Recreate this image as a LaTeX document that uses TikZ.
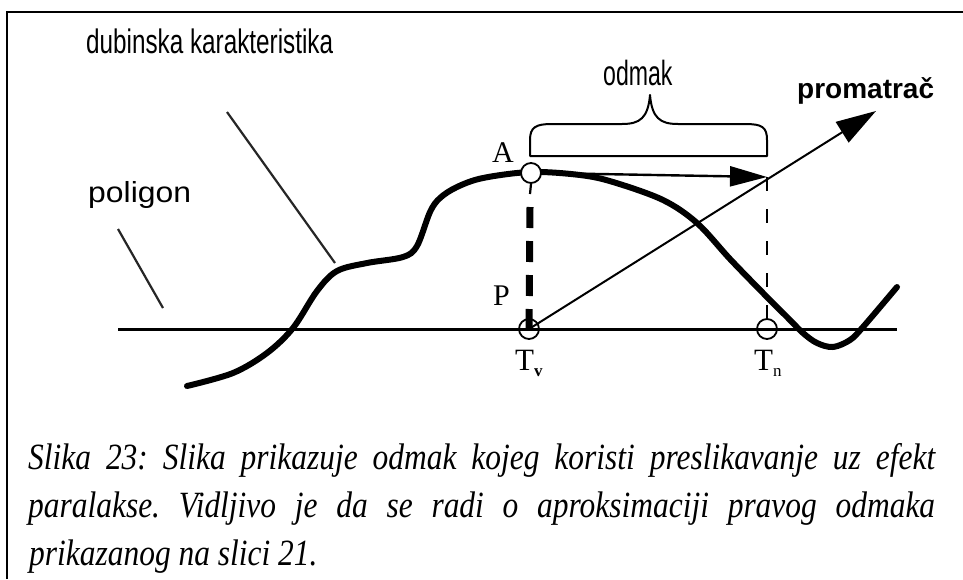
\documentclass[tikz,border=0pt]{standalone}
\usepackage{fontspec}
\usepackage{graphicx}
\setmainfont{Liberation Serif}
\newfontfamily\arialf{Liberation Sans}
\usetikzlibrary{arrows.meta}
\frenchspacing
\tikzset{
  lbl/.style={inner sep=0pt, anchor=base west},
  ptr/.style={line width=2.2pt, black!85},
  ring/.style={circle, draw, line width=1.8pt, minimum size=20pt, inner sep=0pt},
  thickcurve/.style={line width=6pt, line cap=round, line join=round},
  captxt/.style={lbl, font=\itshape\fontsize{37}{44}\selectfont},
}
\begin{document}
\begin{tikzpicture}[x=1pt,y=-1pt]
\useasboundingbox (0,0) rectangle (963,579);
\fill[white] (0,0) rectangle (963,579);
% frame
\draw[line width=2.5pt] (7,579) -- (7,12) -- (963,12);

% coordinates
\coordinate (PolL) at (118,329);
\coordinate (PolR) at (897,329);
\coordinate (Tip) at (767,177);
\coordinate (Obs) at (876,111);
\coordinate (DkS) at (227,112);
\coordinate (DkE) at (335,263);
\coordinate (PgS) at (118,229);
\coordinate (PgE) at (163,308);
\coordinate (Dthin) at (530,194);
\coordinate (Dthick) at (530,207);

% baseline (polygon)
\draw[line width=3pt] (PolL) -- (PolR);

% depth characteristic
\draw[thickcurve] plot[smooth, tension=0.55] coordinates {
 (187,386) (233,373) (267,353) (293,328) (317,291) (337,271) (367,263)
 (403,257) (417,246) (430,212) (440,198) (457,187) (483,178) (531,172)
 (580,175) (613,182) (663,200) (697,223) (730,259) (763,293) (787,317)
 (803,333) (817,343) (833,347) (850,340) (863,327) (897,287)};

% circles
\node[ring, fill=white] (A) at (531,173) {};
\node[ring] (Tv) at (529,329) {};
\node[ring] (Tn) at (767,329) {};

% brace
\draw[line width=2pt, line join=round] (530,156) -- (530,140)
  .. controls (530,127) and (536,124) .. (552,124) -- (622,124)
  .. controls (640,124) and (648,118) .. (650,95)
  .. controls (652,118) and (660,124) .. (678,124) -- (745,124)
  .. controls (762,124) and (767,127) .. (767,140) -- (767,156) -- cycle;

% displacement arrow
\draw[line width=2.4pt, -{Triangle[length=37pt,width=20pt]}] (A.east) -- (Tip);

% verticals
\draw[line width=2.2pt] (A.south) -- (Dthin);
\draw[line width=7pt, dash pattern=on 21pt off 13pt] (Dthick) -- (Tv.center);
\draw[line width=2pt, dash pattern=on 14pt off 18pt] (Tip) -- (Tn.center);

% observer ray
\draw[line width=2pt, -{Triangle[length=40pt,width=24pt]}] (Tv.center) -- (Obs);

% pointer lines
\draw[ptr] (DkS) -- (DkE);
\draw[ptr] (PgS) -- (PgE);

% labels
\node[lbl] (ldk) at (86,53) {\arialf\fontsize{34}{40}\selectfont\scalebox{0.714}[1]{dubinska karakteristika}};
\node[lbl] (lpg) at (88,202) {\arialf\fontsize{29}{34}\selectfont\scalebox{1.1}[1]{poligon}};
\node[lbl] (lod) at (603,85) {\arialf\fontsize{35}{40}\selectfont\scalebox{0.66}[1]{odmak}};
\node[lbl] (lpr) at (797,98) {\arialf\bfseries\fontsize{28}{34}\selectfont promatrač};
\node[lbl] (lA) at (492,162) {\fontsize{30}{34}\selectfont A};
\node[lbl] (lP) at (493,305) {\fontsize{30}{34}\selectfont P};
\node[lbl] (lTv) at (515,370) {\fontsize{31}{34}\selectfont T\raisebox{-6pt}{\bfseries\fontsize{17}{17}\selectfont v}};
\node[lbl] (lTn) at (754,370) {\fontsize{31}{34}\selectfont T\raisebox{-6pt}{\fontsize{17}{17}\selectfont n}};

% caption
\node[captxt] (c1) at (28,469) {\scalebox{0.85}[1]{\makebox[1067pt][s]{Slika 23: Slika prikazuje odmak kojeg koristi preslikavanje uz efekt}}};
\node[captxt] (c2) at (28,517) {\scalebox{0.85}[1]{\makebox[1067pt][s]{paralakse. Vidljivo je da se radi o aproksimaciji pravog odmaka}}};
\node[captxt] (c3) at (29,565) {\scalebox{0.85}[1]{prikazanog na slici 21.}};
\end{tikzpicture}
\end{document}
